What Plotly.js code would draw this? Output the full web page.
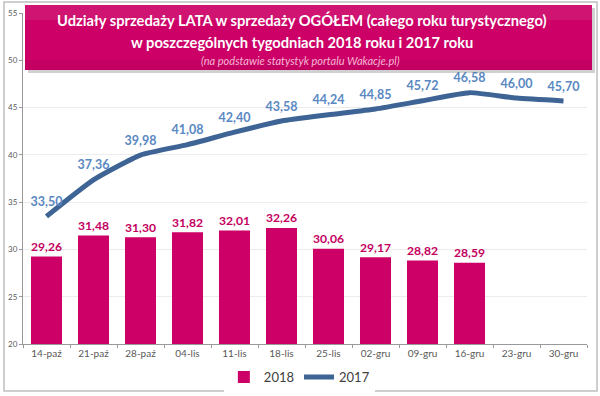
<!DOCTYPE html>
<html>
<head>
<meta charset="utf-8">
<script src="https://cdn.plot.ly/plotly-3.0.1.min.js"></script>
<style>html,body{margin:0;padding:0;background:#fff;} #chart{width:600px;height:396px;}</style>
</head>
<body>
<div id="chart"></div>
<script>
const categories = ["14-paź","21-paź","28-paź","04-lis","11-lis","18-lis","25-lis","02-gru","09-gru","16-gru","23-gru","30-gru"];
const values2018 = [29.26,31.48,31.30,31.82,32.01,32.26,30.06,29.17,28.82,28.59,null,null];
const values2017 = [33.50,37.36,39.98,41.08,42.40,43.58,44.24,44.85,45.72,46.58,46.00,45.70];
const titleLine1 = "Udziały sprzedaży LATA w sprzedaży OGÓŁEM (całego roku turystycznego)";
const titleLine2 = "w poszczególnych tygodniach 2018 roku i 2017 roku";
const subtitle = "(na podstawie statystyk portalu Wakacje.pl)";

const fmt = v => v == null ? "" : v.toFixed(2).replace(".", ",");
const FONT = "Lato, 'Open Sans', sans-serif";

const traces = [
  {
    type: "bar", name: "2018", x: categories, y: values2018,
    marker: {color: "#CC0066"},
    text: values2018.map(fmt), textposition: "outside", cliponaxis: false,
    textfont: {family: FONT, size: 14, color: "#C4005F", weight: "bold"},
    hoverinfo: "skip"
  },
  {
    type: "scatter", mode: "lines+markers+text", name: "2017", x: categories, y: values2017,
    line: {color: "#3D6494", width: 5, shape: "spline", smoothing: 0.5},
    marker: {size: 10, color: "rgba(0,0,0,0)"},
    text: values2017.map(fmt), textposition: "top center", cliponaxis: false,
    textfont: {family: FONT, size: 12.5, color: "#5A88C2", weight: "bold"},
    hoverinfo: "skip"
  }
];

const px = p => (p - 23) / 564;
const py = p => (344 - p) / 331;

const layout = {
  width: 600, height: 396,
  margin: {l: 23, r: 13, t: 13, b: 52, autoexpand: false},
  paper_bgcolor: "#fff", plot_bgcolor: "#fff",
  font: {family: FONT, color: "#595959"},
  bargap: 0.34,
  showlegend: true,
  legend: {orientation: "h", x: 0.49, xanchor: "center", y: py(377), yanchor: "middle",
           font: {size: 13, color: "#404040"}, itemwidth: 30, tracegroupgap: 0},
  xaxis: {
    type: "category", range: [-0.5, categories.length - 0.5],
    tickson: "boundaries", ticks: "outside", ticklen: 3, tickcolor: "#999",
    showline: true, linecolor: "#999", linewidth: 1, showgrid: false,
    tickfont: {size: 10, color: "#595959"}, fixedrange: true
  },
  yaxis: {
    range: [20, 55], dtick: 5, ticks: "outside", ticklen: 3, tickcolor: "#999",
    showline: true, linecolor: "#999", linewidth: 1,
    showgrid: true, gridcolor: "#ececec", zeroline: false,
    tickfont: {size: 8, color: "#595959"}, fixedrange: true
  },
  shapes: [
    {type: "rect", xref: "paper", yref: "paper", x0: px(4), x1: px(597), y0: py(391), y1: py(2),
     line: {color: "#bfbfbf", width: 1.5}, fillcolor: "rgba(0,0,0,0)", layer: "below"},
    {type: "rect", xref: "paper", yref: "paper", x0: px(28), x1: px(595), y0: py(73), y1: py(8),
     line: {width: 0}, fillcolor: "rgba(120,120,120,0.35)", layer: "above"},
    {type: "rect", xref: "paper", yref: "paper", x0: px(25), x1: px(592), y0: py(70), y1: py(5),
     line: {width: 0}, fillcolor: "#CC0066", layer: "above"},
    {type: "rect", xref: "paper", yref: "paper", x0: px(25), x1: px(592), y0: py(20), y1: py(5),
     line: {width: 0}, fillcolor: "rgba(255,255,255,0.08)", layer: "above"},
    {type: "rect", xref: "paper", yref: "paper", x0: px(25), x1: px(592), y0: py(70), y1: py(60),
     line: {width: 0}, fillcolor: "rgba(90,0,40,0.08)", layer: "above"}
  ],
  annotations: [
    {xref: "paper", yref: "paper", x: px(302), y: py(20), xanchor: "center", yanchor: "middle",
     text: "<b>" + titleLine1 + "</b>", showarrow: false, font: {family: FONT, size: 14.7, color: "#fff"}},
    {xref: "paper", yref: "paper", x: px(302), y: py(42), xanchor: "center", yanchor: "middle",
     text: "<b>" + titleLine2 + "</b>", showarrow: false, font: {family: FONT, size: 14.7, color: "#fff"}},
    {xref: "paper", yref: "paper", x: px(300), y: py(60), xanchor: "center", yanchor: "middle",
     text: "<i>" + subtitle + "</i>", showarrow: false, font: {family: FONT, size: 11, color: "#F7B7D6"}}
  ]
};

Plotly.newPlot("chart", traces, layout, {displayModeBar: false, staticPlot: true});
</script>
</body>
</html>
